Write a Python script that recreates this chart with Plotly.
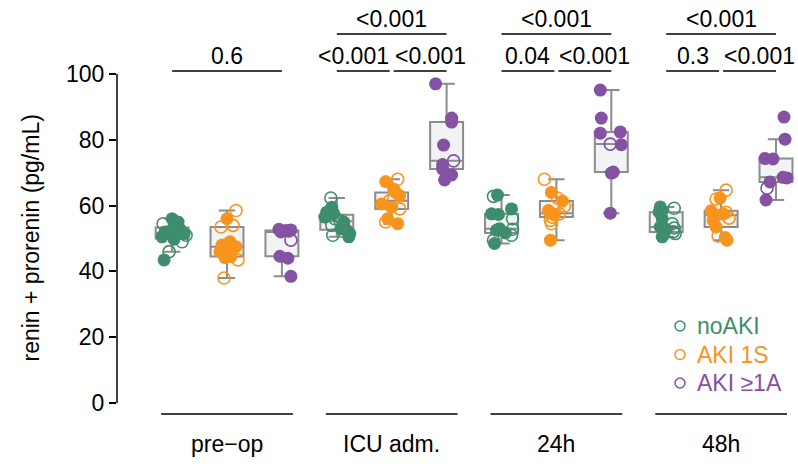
import numpy as np
import plotly.graph_objects as go

# ---- categories -------------------------------------------------------------
timepoints = ["pre−op", "ICU adm.", "24h", "48h"]
groups = ["noAKI", "AKI 1S", "AKI ≥1A"]
colors = ["#3E8E6E", "#F7941D", "#8551A2"]

# ---- measurements (pg/mL) ---------------------------------------------------
noaki_preop = [56.0, 55.0, 54.5, 53.5, 52.8, 52.3, 52.0, 51.5, 51.0, 50.5, 49.8, 49.0, 46.0, 43.5]
aki1s_preop = [58.5, 56.0, 54.0, 53.5, 49.0, 48.0, 47.5, 47.0, 46.0, 44.5, 44.2, 43.5, 38.0]
aki1a_preop = [52.8, 52.6, 52.4, 52.2, 52.0, 49.5, 44.6, 44.0, 38.5]

noaki_icu = [62.3, 59.5, 58.0, 57.5, 56.5, 56.0, 55.5, 55.0, 54.0, 53.0, 52.5, 51.5, 51.0, 50.5]
aki1s_icu = [68.0, 67.3, 65.0, 64.0, 63.0, 62.0, 61.5, 60.5, 59.5, 59.0, 56.0, 55.0, 54.5]
aki1a_icu = [97.0, 86.6, 85.4, 78.4, 73.6, 72.5, 71.1, 69.3, 67.8]

noaki_24h = [63.2, 62.8, 59.0, 57.5, 57.3, 56.0, 53.0, 52.8, 52.5, 51.7, 51.0, 49.5, 48.5]
aki1s_24h = [68.0, 64.0, 62.3, 61.4, 59.8, 58.5, 57.7, 57.5, 57.2, 56.5, 55.5, 54.5, 49.5]
aki1a_24h = [95.1, 86.6, 82.4, 82.0, 78.7, 78.5, 70.2, 69.9, 57.7]

noaki_48h = [59.6, 59.2, 58.5, 58.0, 56.0, 54.5, 53.5, 53.2, 52.8, 52.0, 51.5, 51.0, 50.5]
aki1s_48h = [64.7, 62.3, 62.0, 58.4, 58.0, 57.5, 57.1, 56.2, 55.5, 53.5, 50.8, 50.3, 49.5]
aki1a_48h = [86.9, 80.2, 74.3, 74.2, 68.6, 68.4, 67.2, 65.3, 61.7]

# open-circle flags (1 = open marker), same order as the values
noaki_preop_open = [0, 0, 1, 0, 0, 0, 0, 0, 1, 0, 0, 1, 1, 0]
aki1s_preop_open = [1, 0, 1, 1, 0, 0, 0, 0, 0, 0, 0, 1, 1]
aki1a_preop_open = [0, 0, 0, 0, 0, 1, 0, 0, 0]
noaki_icu_open = [1, 0, 0, 0, 0, 1, 1, 0, 1, 0, 0, 0, 1, 0]
aki1s_icu_open = [1, 0, 0, 0, 0, 1, 1, 0, 0, 1, 0, 1, 0]
aki1a_icu_open = [0, 0, 0, 0, 1, 0, 0, 0, 0]
noaki_24h_open = [0, 1, 0, 0, 0, 1, 0, 1, 0, 0, 1, 1, 0]
aki1s_24h_open = [1, 0, 1, 0, 1, 0, 0, 1, 0, 1, 1, 1, 0]
aki1a_24h_open = [0, 0, 0, 0, 1, 0, 0, 0, 0]
noaki_48h_open = [0, 1, 0, 0, 0, 1, 0, 1, 0, 1, 1, 0, 0]
aki1s_48h_open = [1, 0, 1, 0, 1, 0, 0, 1, 0, 0, 1, 0, 0]
aki1a_48h_open = [0, 0, 0, 0, 0, 0, 0, 1, 0]

# horizontal jitter of each point, in pixels
noaki_preop_jit = [0, 6, -9, 6, 8, -2, -7, 12, 14, -10, 2, 10, -3, -8]
aki1s_preop_jit = [9, 0, 6, -6, 3, -5, 9, -2, -7, 4, -2, 11, -3]
aki1a_preop_jit = [-3, 9, 4, 7, -1, 9, -2, 6, 9]
noaki_icu_jit = [-6, -5, -10, -3, -12, -2, 3, 7, -5, 4, 10, 13, -4, 12]
aki1s_icu_jit = [6, -6, 2, 4, 8, 2, -2, -10, 0, 8, -4, -6, 6]
aki1a_icu_jit = [-11, 5, 5, -3, 7, -4, -4, 5, -2]
noaki_24h_jit = [-4, -8, 10, -10, -3, 11, -2, 11, -5, 4, 10, -8, -7]
aki1s_24h_jit = [-12, -5, 1, 6, 8, -8, -5, 3, -2, -4, -6, -5, -6]
aki1a_24h_jit = [-11, -10, 9, -11, -1, 10, 2, 0, -1]
noaki_48h_jit = [-6, 8, -4, -7, -4, 6, -6, 8, 0, 7, 9, -3, -4]
aki1s_48h_jit = [5, -1, -5, -10, 5, 2, -5, 8, -8, -5, -3, 4, 6]
aki1a_48h_jit = [8, 9, -11, -3, 7, 11, -6, -9, -10]

# pairwise p-values per time point
p_outer = ["0.6", "<0.001", "<0.001", "<0.001"]   # noAKI vs AKI ≥1A
p_left = [None, "<0.001", "0.04", "0.3"]           # noAKI vs AKI 1S
p_right = [None, "<0.001", "<0.001", "<0.001"]     # AKI 1S vs AKI ≥1A

values = [
    [noaki_preop, aki1s_preop, aki1a_preop],
    [noaki_icu, aki1s_icu, aki1a_icu],
    [noaki_24h, aki1s_24h, aki1a_24h],
    [noaki_48h, aki1s_48h, aki1a_48h],
]
opens = [
    [noaki_preop_open, aki1s_preop_open, aki1a_preop_open],
    [noaki_icu_open, aki1s_icu_open, aki1a_icu_open],
    [noaki_24h_open, aki1s_24h_open, aki1a_24h_open],
    [noaki_48h_open, aki1s_48h_open, aki1a_48h_open],
]
jitters = [
    [noaki_preop_jit, aki1s_preop_jit, aki1a_preop_jit],
    [noaki_icu_jit, aki1s_icu_jit, aki1a_icu_jit],
    [noaki_24h_jit, aki1s_24h_jit, aki1a_24h_jit],
    [noaki_48h_jit, aki1s_48h_jit, aki1a_48h_jit],
]

# ---- geometry ---------------------------------------------------------------
W, H = 798, 464
ML = 117
PX_PER_X = 164.7          # pixels per time point
DODGE = 1 / 3             # offset between groups inside a time point
BOX_W = 0.2
X_RANGE = [-110 / PX_PER_X, (W - 227) / PX_PER_X]
PX_PER_Y = 3.29
Y_TOP = 403 / PX_PER_Y
Y_RANGE = [Y_TOP - H / PX_PER_Y, Y_TOP]


def px_to_y(py):
    return (403 - py) / PX_PER_Y


FONT = "Liberation Sans, Arial, sans-serif"
FS = 23
BOX_LINE = "#8C8C8C"
BOX_FILL = "#F2F3F5"


def box_stats(v):
    a = np.asarray(v, dtype=float)
    q1, med, q3 = np.percentile(a, [25, 50, 75])
    iqr = q3 - q1
    lo = a[a >= q1 - 1.5 * iqr].min()
    hi = a[a <= q3 + 1.5 * iqr].max()
    return q1, med, q3, lo, hi


fig = go.Figure()

# boxes
for t in range(len(timepoints)):
    for g in range(len(groups)):
        xpos = t + (g - 1) * DODGE
        q1, med, q3, lo, hi = box_stats(values[t][g])
        fig.add_trace(go.Box(
            x=[xpos], q1=[q1], median=[med], q3=[q3],
            lowerfence=[lo], upperfence=[hi],
            width=BOX_W, whiskerwidth=0.5,
            fillcolor=BOX_FILL, line=dict(color=BOX_LINE, width=2),
            boxpoints=False, showlegend=False, hoverinfo="skip",
        ))

# points
for t in range(len(timepoints)):
    for g in range(len(groups)):
        xpos = t + (g - 1) * DODGE
        v = np.asarray(values[t][g], dtype=float)
        o = np.asarray(opens[t][g], dtype=bool)
        x = xpos + np.asarray(jitters[t][g], dtype=float) / PX_PER_X
        fig.add_trace(go.Scatter(
            x=x[~o], y=v[~o], mode="markers",
            marker=dict(symbol="circle", size=13, color=colors[g], line=dict(width=0)),
            showlegend=False, hoverinfo="skip",
        ))
        fig.add_trace(go.Scatter(
            x=x[o], y=v[o], mode="markers",
            marker=dict(symbol="circle-open", size=12, color=colors[g],
                        line=dict(width=1.6, color=colors[g])),
            showlegend=False, hoverinfo="skip",
        ))

shapes = []
annotations = []

# y axis line (0 to 100 only)
shapes.append(dict(type="line", xref="paper", yref="y", x0=0, x1=0, y0=0, y1=100,
                   line=dict(color="black", width=1.5)))

# time point baselines and labels
for t, lab in enumerate(timepoints):
    shapes.append(dict(type="line", xref="x", yref="y", x0=t - 0.4, x1=t + 0.4,
                       y0=px_to_y(414), y1=px_to_y(414), line=dict(color="black", width=1.6)))
    annotations.append(dict(x=t, y=px_to_y(444), xref="x", yref="y", text=lab, showarrow=False,
                            font=dict(size=FS, color="black", family=FONT),
                            xanchor="center", yanchor="middle"))

# significance brackets
Y_LOW = px_to_y(71)
Y_HIGH = px_to_y(34)
GAP = 0.012


def bracket(x0, x1, y, label, anchor="center"):
    shapes.append(dict(type="line", xref="x", yref="y", x0=x0, x1=x1, y0=y, y1=y,
                       line=dict(color="black", width=1.6)))
    xt = {"center": (x0 + x1) / 2, "right": x1, "left": x0}[anchor]
    annotations.append(dict(x=xt, y=y, xref="x", yref="y", text=label,
                            showarrow=False, yanchor="bottom", xanchor=anchor,
                            borderpad=0, yshift=1,
                            font=dict(size=FS, color="black", family=FONT)))


for t in range(len(timepoints)):
    if p_left[t] is None:
        bracket(t - DODGE, t + DODGE, Y_LOW, p_outer[t])
    else:
        bracket(t - DODGE, t + DODGE, Y_HIGH, p_outer[t])
        # long labels on the short brackets are pushed outwards
        bracket(t - DODGE, t - GAP, Y_LOW, p_left[t],
                "right" if p_left[t].startswith("<") else "center")
        bracket(t + GAP, t + DODGE, Y_LOW, p_right[t],
                "left" if p_right[t].startswith("<") else "center")

# y axis title
annotations.append(dict(x=(30 - ML) / (W - ML), y=50, xref="paper", yref="y",
                        text="renin + prorenin (pg/mL)", textangle=-90, showarrow=False,
                        xanchor="center", yanchor="middle",
                        font=dict(size=FS, color="black", family=FONT)))

# legend: open circle + coloured label per group
LEG_X = 680
LEG_Y0, LEG_DY = 326, 28.5
for g, name in enumerate(groups):
    py = LEG_Y0 + g * LEG_DY
    shapes.append(dict(type="circle", xref="paper", yref="paper",
                       xsizemode="pixel", ysizemode="pixel",
                       xanchor=(LEG_X - ML) / (W - ML), yanchor=1 - py / H,
                       x0=-5, x1=5, y0=-5, y1=5,
                       line=dict(color=colors[g], width=1.5), fillcolor="rgba(0,0,0,0)"))
    annotations.append(dict(x=(LEG_X + 16 - ML) / (W - ML), y=1 - py / H,
                            xref="paper", yref="paper", text=name, showarrow=False,
                            xanchor="left", yanchor="middle", borderpad=0,
                            font=dict(size=FS, color=colors[g], family=FONT)))

fig.update_layout(
    width=W, height=H,
    margin=dict(l=ML, r=0, t=0, b=0),
    template="none",
    paper_bgcolor="white", plot_bgcolor="white",
    font=dict(family=FONT, size=FS, color="black"),
    boxmode="overlay",
    showlegend=False,
    xaxis=dict(range=X_RANGE, visible=False, fixedrange=True),
    yaxis=dict(range=Y_RANGE, tickvals=[0, 20, 40, 60, 80, 100], ticks="outside",
               ticklen=7, tickwidth=1.5, tickcolor="black", showline=False,
               showgrid=False, zeroline=False, tickfont=dict(size=FS, family=FONT),
               fixedrange=True),
    shapes=shapes,
    annotations=annotations,
)

fig.write_html("out.html")
